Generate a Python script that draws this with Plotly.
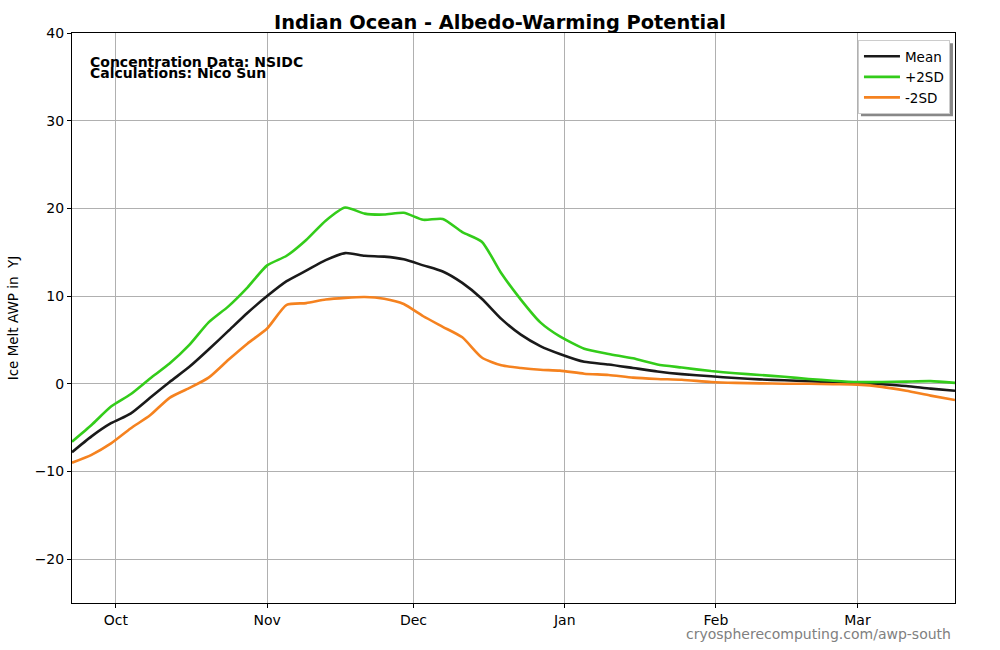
import plotly.graph_objects as go

dates = ["2023-09-22", "2023-09-26", "2023-09-30", "2023-10-04", "2023-10-08", "2023-10-12",
         "2023-10-16", "2023-10-20", "2023-10-24", "2023-10-28", "2023-11-01", "2023-11-05",
         "2023-11-09", "2023-11-13", "2023-11-17", "2023-11-21", "2023-11-25", "2023-11-29",
         "2023-12-03", "2023-12-07", "2023-12-11", "2023-12-15", "2023-12-19", "2023-12-23",
         "2023-12-27", "2023-12-31", "2024-01-05", "2024-01-10", "2024-01-15", "2024-01-20",
         "2024-01-25", "2024-01-31", "2024-02-05", "2024-02-10", "2024-02-15", "2024-02-20",
         "2024-02-25", "2024-03-01", "2024-03-06", "2024-03-11", "2024-03-16", "2024-03-21"]

mean = [-7.8, -6.0, -4.5, -3.4, -1.6, 0.2, 1.9, 3.9, 6.0, 8.1, 10.0, 11.7,
        12.9, 14.1, 14.9, 14.6, 14.5, 14.2, 13.5, 12.8, 11.5, 9.7, 7.4, 5.6,
        4.3, 3.4, 2.5, 2.2, 1.8, 1.4, 1.1, 0.85, 0.65, 0.5, 0.4, 0.3,
        0.2, 0.1, -0.05, -0.25, -0.55, -0.8]

plus2sd = [-6.6, -4.7, -2.6, -1.2, 0.6, 2.3, 4.4, 7.0, 8.8, 11.0, 13.5, 14.6,
           16.4, 18.6, 20.1, 19.4, 19.3, 19.5, 18.7, 18.8, 17.3, 16.2, 12.6, 9.6,
           7.0, 5.4, 4.0, 3.4, 2.9, 2.2, 1.85, 1.45, 1.2, 1.0, 0.8, 0.55,
           0.35, 0.2, 0.2, 0.25, 0.3, 0.1]

minus2sd = [-9.0, -8.1, -6.8, -5.1, -3.6, -1.6, -0.5, 0.7, 2.7, 4.6, 6.3, 9.0,
            9.2, 9.6, 9.8, 9.9, 9.7, 9.1, 7.7, 6.5, 5.3, 3.0, 2.1, 1.8,
            1.6, 1.5, 1.15, 1.0, 0.7, 0.55, 0.45, 0.2, 0.1, 0.05, 0.0, 0.0,
            -0.05, -0.1, -0.35, -0.8, -1.35, -1.85]

month_ticks = ["2023-10-01", "2023-11-01", "2023-12-01", "2024-01-01", "2024-02-01", "2024-03-01"]
month_labels = ["Oct", "Nov", "Dec", "Jan", "Feb", "Mar"]
y_ticks = [-20, -10, 0, 10, 20, 30, 40]

FONT = "DejaVu Sans"

fig = go.Figure()
fig.add_trace(go.Scatter(x=dates, y=mean, mode="lines", name="Mean",
                         line=dict(color="#1a1a1a", width=2.6, shape="spline", smoothing=0.6)))
fig.add_trace(go.Scatter(x=dates, y=plus2sd, mode="lines", name="+2SD",
                         line=dict(color="#33cc1a", width=2.6, shape="spline", smoothing=0.6)))
fig.add_trace(go.Scatter(x=dates, y=minus2sd, mode="lines", name="-2SD",
                         line=dict(color="#f5821f", width=2.6, shape="spline", smoothing=0.6)))

fig.update_layout(
    width=1000, height=650,
    margin=dict(l=72, r=45, t=33, b=47),
    paper_bgcolor="white", plot_bgcolor="white",
    font=dict(family=FONT, size=14, color="black"),
    title=dict(text="<b>Indian Ocean - Albedo-Warming Potential</b>", x=0.5, xanchor="center",
               y=0.966, yanchor="middle", font=dict(family=FONT, size=19.4, color="black")),
    showlegend=True,
    legend=dict(x=0.9943, y=0.9877, xanchor="right", yanchor="top",
                bgcolor="white", bordercolor="#cccccc", borderwidth=1,
                font=dict(family=FONT, size=13.5), tracegroupgap=0,
                itemwidth=36),
)

fig.update_xaxes(
    range=["2023-09-22", "2024-03-21"],
    tickmode="array", tickvals=month_ticks, ticktext=month_labels,
    showgrid=True, gridcolor="#b0b0b0", gridwidth=1,
    showline=True, linecolor="black", linewidth=1, mirror=True,
    ticks="outside", ticklen=4, tickcolor="black", zeroline=False,
    tickfont=dict(family=FONT, size=14),
)
fig.update_yaxes(
    range=[-25, 40],
    tickmode="array", tickvals=y_ticks,
    showgrid=True, gridcolor="#b0b0b0", gridwidth=1,
    showline=True, linecolor="black", linewidth=1, mirror=True,
    ticks="outside", ticklen=4, tickcolor="black", zeroline=False,
    tickfont=dict(family=FONT, size=14),
    title=dict(text="Ice Melt AWP in  YJ", font=dict(family=FONT, size=13.5), standoff=12),
)

fig.add_annotation(xref="paper", yref="paper", x=0.0182, y=0.949, xanchor="left", yanchor="middle",
                   text="<b>Concentration Data: NSIDC</b>", showarrow=False,
                   font=dict(family=FONT, size=14, color="black"))
fig.add_annotation(xref="paper", yref="paper", x=0.0182, y=0.930, xanchor="left", yanchor="middle",
                   text="<b>Calculations: Nico Sun</b>", showarrow=False,
                   font=dict(family=FONT, size=14, color="black"))
fig.add_annotation(xref="paper", yref="paper", x=0.9977, y=-0.0545, xanchor="right", yanchor="middle",
                   text="cryospherecomputing.com/awp-south", showarrow=False,
                   font=dict(family=FONT, size=14, color="#808080"))

# legend shadow
fig.add_shape(type="rect", xref="paper", yref="paper", layer="above",
              x0=0.8935, x1=0.9977, y0=0.854, y1=0.982,
              fillcolor="#888888", line=dict(width=0))

fig.write_html("out.html", config={"displayModeBar": False},
               post_script="document.body.style.margin='0px';")
